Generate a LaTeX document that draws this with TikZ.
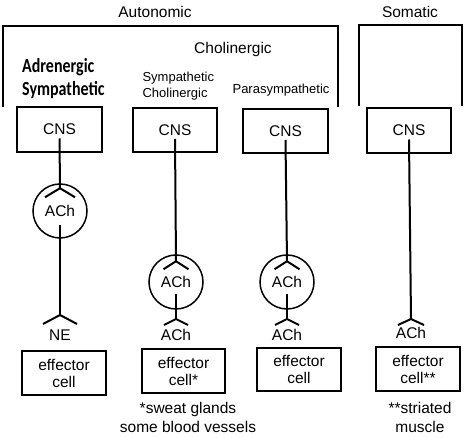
\documentclass[tikz,border=0pt]{standalone}
\usepackage{fontspec}
\setmainfont{Liberation Sans}
\newfontfamily\adrfont[FakeStretch=0.8]{Carlito}
\usetikzlibrary{calc}
\tikzset{
  pics/syn/.style args={#1/#2}{code={\draw[line width=2pt] (-#1,#2) -- (0,0) -- (#1,#2);}}
}

\begin{document}
\begin{tikzpicture}[x=1pt,y=-1pt,
  every node/.style={font=\fontsize{15.5}{17}\selectfont},
  box/.style={draw, line width=2pt, minimum width=84, minimum height=44, inner sep=0pt, align=center},
  gang/.style={draw, circle, line width=1.5pt, minimum size=54, inner sep=0pt},
  axon/.style={line width=2pt},
  small/.style={font=\fontsize{13}{16}\selectfont, align=left}]
\useasboundingbox (0,0) rectangle (466,438);
\node (auto) at (155,12) {Autonomic};
\node (soma) at (410,12) {Somatic};
\node (chol) at (233,49) {Cholinergic};
\node[small, font=\adrfont\bfseries\fontsize{20}{23}\selectfont, anchor=west, inner sep=0pt] (adr) at (22,79) {Adrenergic\\Sympathetic};
\node[small, anchor=west] (sympch) at (139,86) {Sympathetic\\Cholinergic};
\node[small] (para) at (281,90) {Parasympathetic};
\draw[axon] (3,107) -- (3,26) -- (338,26) -- (338,107);
\draw[axon] (359,106) -- (359,25) -- (462,25) -- (462,106);
\node[box, minimum width=85, minimum height=45] (cns1) at (59.5,129.5) {CNS};
\node[box, minimum height=44] (cns2) at (175,130) {CNS};
\node[box, minimum width=85] (cns3) at (285.5,131) {CNS};
\node[box, minimum height=45] (cns4) at (409,130.5) {CNS};
\node[gang] (g1) at (60,211) {ACh};
\node[gang] (g2) at (176,282) {ACh};
\node[gang] (g3) at (287,282) {ACh};
\node (nt1) at (60,335) {NE};
\node (nt2) at (176,335) {ACh};
\node (nt3) at (287,335) {ACh};
\node (nt4) at (411,333) {ACh};
\coordinate (s1) at (60,315);
\coordinate (s2) at (176,319);
\coordinate (s3) at (287,319);
\coordinate (s4) at (411,319);
\node[box] (e1) at (64,373) {effector\\cell};
\node[box, minimum width=83] (e2) at (183.5,371) {effector\\cell*};
\node[box, minimum height=43] (e3) at (299,369.5) {effector\\cell};
\node[box] (e4) at (418,369) {effector\\cell**};
\node[align=center, font=\fontsize{15.5}{19}\selectfont] (fn2) at (188,417.5) {*sweat glands\\some blood vessels};
\node[align=center, font=\fontsize{15.5}{19}\selectfont] (fn4) at (420,417.5) {**striated\\muscle};
\draw[axon] ($(cns1)+(0,9)$) -- ($(g1.north)+(0,5)$) pic {syn=15/9};
\draw[axon] ($(g1)+(0,14)$) -- (s1) pic {syn=17/9};
\draw[axon] ($(cns2)+(0,9)$) -- ($(g2.north)+(0,7)$) pic {syn=12.5/8};
\draw[axon] ($(g2)+(0,12)$) -- (s2) pic {syn=12/6};
\draw[axon] ($(cns3)+(0,9)$) -- ($(g3.north)+(0,7)$) pic {syn=12.5/8};
\draw[axon] ($(g3)+(0,12)$) -- (s3) pic {syn=12/6};
\draw[axon] ($(cns4)+(0,9)$) -- (s4) pic {syn=13/6};
\end{tikzpicture}
\end{document}
